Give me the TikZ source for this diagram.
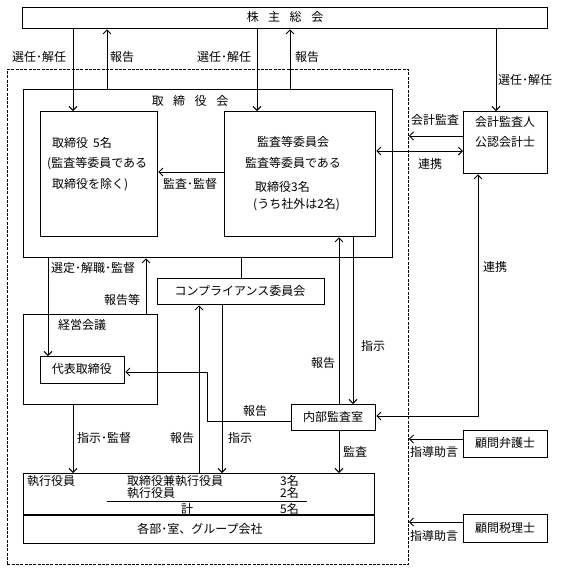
\documentclass[tikz,border=0pt]{standalone}
\usepackage{fontspec}
\newfontfamily\jp{Noto Sans CJK JP}
\usetikzlibrary{arrows.meta,calc}
\begin{document}
\begin{tikzpicture}[x=1pt,y=-1pt,
  box/.style={draw,line width=1.3pt,inner sep=0pt,anchor=north west},
  frame/.style={draw,line width=0.9pt,dash pattern=on 3pt off 1.3pt,inner sep=0pt,anchor=north west},
  lbl/.style={inner sep=0pt,font=\jp\fontsize{12}{12}\selectfont},
  wl/.style={lbl,anchor=west},
  arr/.style={line width=0.9pt,-{Straight Barb[length=4pt,width=8pt]}},
  arrb/.style={line width=0.9pt,{Straight Barb[length=4pt,width=8pt]}-{Straight Barb[length=4pt,width=8pt]}},
  ln/.style={line width=0.9pt}]
\useasboundingbox (0,0) rectangle (561,571);
% frame
\node[frame,minimum width=401pt,minimum height=495pt] (fr) at (7,69) {};
% boxes
\node[box,minimum width=525pt,minimum height=21pt] (sh) at (22,7) {};
\node[box,minimum width=369pt,minimum height=168pt] (bd) at (23,89) {};
\node[box,minimum width=117pt,minimum height=125pt] (d5) at (40,111) {};
\node[box,minimum width=151pt,minimum height=125pt] (ac) at (224,111) {};
\node[box,minimum width=84pt,minimum height=62pt] (ka) at (463,111) {};
\node[box,minimum width=167pt,minimum height=26pt] (comp) at (157,278) {};
\node[box,minimum width=134pt,minimum height=90pt] (keiei) at (23,314) {};
\node[box,minimum width=84pt,minimum height=27pt] (rep) at (40,356) {};
\node[box,minimum width=84pt,minimum height=26pt] (naibu) at (291,404) {};
\node[box,minimum width=351pt,minimum height=70pt] (ex) at (23,473) {};
\node[box,minimum width=84pt,minimum height=27pt] (bengo) at (463,430) {};
\node[box,minimum width=84pt,minimum height=28pt] (zeiri) at (463,514) {};
\draw[line width=1.3pt] (ex.west |- 0,515) -- (ex.east |- 0,515);
\draw[line width=1pt] (107,501) -- (307,501);
% box texts
\node[lbl] (tsh) at (285,17) {株\hspace{9.5pt}主\hspace{9.5pt}総\hspace{9.5pt}会};
\node[lbl] (tbd) at (190,101) {取\hspace{9.5pt}締\hspace{9.5pt}役\hspace{9.5pt}会};
\node[wl] (td1) at (52,143) {取締役\hspace{5pt}5名};
\node[wl] (td2) at (47,164) {(監査等委員である};
\node[wl] (td3) at (52,185) {取締役を除く)};
\node[lbl] (ta1) at (293,142) {監査等委員会};
\node[lbl] (ta2) at (293,163) {監査等委員である};
\node[wl] (ta3) at (255,187) {取締役3名};
\node[wl] (ta4) at (253,205) {(うち社外は2名)};
\node[lbl] (tk1) at (505,122) {会計監査人};
\node[lbl] (tk2) at (505,142) {公認会計士};
\node[lbl] (tcomp) at (240,291) {コンプライアンス委員会};
\node[wl] (tkei) at (58,325) {経営会議};
\node[lbl] (trep) at (82,369) {代表取締役};
\node[lbl] (tnai) at (333,417) {内部監査室};
\node[wl] (te1) at (27,481) {執行役員};
\node[wl] (te2) at (127,481) {取締役兼執行役員};
\node[wl] (te3) at (280,481) {3名};
\node[wl] (te4) at (127,493) {執行役員};
\node[wl] (te5) at (280,493) {2名};
\node[wl] (te6) at (181,509) {計};
\node[wl] (te7) at (280,509) {5名};
\node[lbl] (tbu) at (200,529) {各部･室、グループ会社};
\node[lbl] (tbg) at (505,443) {顧問弁護士};
\node[lbl] (tze) at (505,528) {顧問税理士};
% connectors
\draw[arr] (sh.south -| 73,0) -- (d5.north -| 73,0);
\draw[arr] (bd.north -| 107,0) -- (sh.south -| 107,0);
\draw[arr] (sh.south -| 257,0) -- (ac.north -| 257,0);
\draw[arr] (bd.north -| 290,0) -- (sh.south -| 290,0);
\draw[arr] (sh.south -| 496,0) -- (ka.north -| 496,0);
\draw[arr] (ac.west |- 0,172) -- (d5.east |- 0,172);
\draw[arr] (ka.west |- 0,136) -- (fr.east |- 0,136);
\draw[arrb] (ac.east |- 0,151) -- (ka.west |- 0,151);
\draw[arrb] (naibu.east |- 0,416) -| (ka.south -| 478,0);
\draw[arr] (bd.south -| 48,0) -- (rep.north -| 48,0);
\draw[arr] (keiei.north -| 146,0) -- (bd.south -| 146,0);
\draw[ln] (bd.south -| 241,0) -- (comp.north -| 241,0);
\draw[arr] (ex.north -| 199,0) -- (comp.south -| 199,0);
\draw[arr] (comp.south -| 222,0) -- (ex.north -| 222,0);
\draw[arr] (keiei.south -| 73,0) -- (ex.north -| 73,0);
\coordinate (bend) at (207,421);
\draw[arr] (naibu.west |- bend) -- (bend) |- (rep.east |- 0,372);
\draw[arr] (naibu.north -| 339,0) -- (ac.south -| 339,0);
\draw[arr] (ac.south -| 353,0) -- (naibu.north -| 353,0);
\draw[arr] (naibu.south -| 339,0) -- (ex.north -| 339,0);
\draw[arr] (bengo.west |- 0,439) -- (fr.east |- 0,439);
\draw[arr] (zeiri.west |- 0,522) -- (fr.east |- 0,522);
% connector labels
\node[wl] (l1) at (12,57) {選任･解任};
\node[wl] (l2) at (110,57) {報告};
\node[wl] (l3) at (197,57) {選任･解任};
\node[wl] (l4) at (295,57) {報告};
\node[wl] (l5) at (498,80) {選任･解任};
\node[wl] (l6) at (163,184) {監査･監督};
\node[wl] (l7) at (411,120) {会計監査};
\node[wl] (l8) at (418,164) {連携};
\node[wl] (l9) at (483,267) {連携};
\node[wl] (l10) at (51,268) {選定･解職･監督};
\node[wl] (l11) at (104,300) {報告等};
\node[wl] (l12) at (243,411) {報告};
\node[wl] (l13) at (311,363) {報告};
\node[wl] (l14) at (361,346) {指示};
\node[wl] (l15) at (77,438) {指示･監督};
\node[wl] (l16) at (170,438) {報告};
\node[wl] (l17) at (228,438) {指示};
\node[wl] (l18) at (343,452) {監査};
\node[wl] (l19) at (410,452) {指導助言};
\node[wl] (l20) at (410,536) {指導助言};
\end{tikzpicture}
\end{document}
